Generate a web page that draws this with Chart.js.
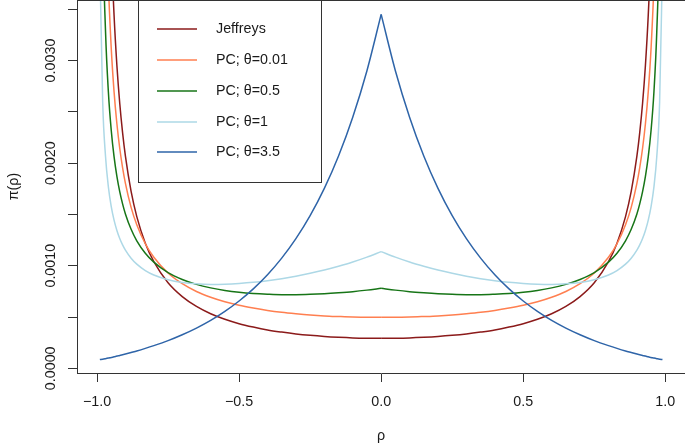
<!DOCTYPE html>
<html>
<head>
<meta charset="utf-8">
<script src="https://cdn.jsdelivr.net/npm/chart.js@4.4.0/dist/chart.umd.min.js"></script>
<style>
  html, body { margin: 0; padding: 0; background: #fff; overflow: hidden; }
  #wrap { width: 685px; height: 443px; }
</style>
</head>
<body>
<div id="wrap"><canvas id="prior-chart" width="685" height="443"></canvas></div>
<script>
// rho grid (x values)
const rho = [-0.99, -0.98, -0.97, -0.96, -0.95, -0.94, -0.93, -0.92, -0.91, -0.9, -0.88, -0.86, -0.83, -0.8, -0.75, -0.7, -0.65, -0.6, -0.55, -0.5, -0.45, -0.4, -0.35, -0.3, -0.25, -0.2, -0.15, -0.1, -0.05,
  0,
  0.05, 0.1, 0.15, 0.2, 0.25, 0.3, 0.35, 0.4, 0.45, 0.5, 0.55, 0.6, 0.65, 0.7, 0.75, 0.8, 0.83, 0.86, 0.88, 0.9, 0.91, 0.92, 0.93, 0.94, 0.95, 0.96, 0.97, 0.98, 0.99];

// prior values
const jeffreys = [0.020648, 0.010324, 0.006883, 0.005163, 0.004131, 0.003443, 0.002952, 0.002583, 0.002297, 0.002068, 0.001724, 0.001479, 0.001220, 0.001039, 0.000834, 0.000699, 0.000603, 0.000532, 0.000478, 0.000435, 0.000402, 0.000374, 0.000353, 0.000335, 0.000321, 0.000310, 0.000302, 0.000296, 0.000293,
  0.000292,
  0.000293, 0.000296, 0.000302, 0.000310, 0.000321, 0.000335, 0.000353, 0.000374, 0.000402, 0.000435, 0.000478, 0.000532, 0.000603, 0.000699, 0.000834, 0.001039, 0.001220, 0.001479, 0.001724, 0.002068, 0.002297, 0.002583, 0.002952, 0.003443, 0.004131, 0.005163, 0.006883, 0.010324, 0.020648];

const pc001 = [0.012248, 0.006723, 0.004769, 0.003754, 0.003126, 0.002697, 0.002384, 0.002145, 0.001957, 0.001803, 0.001569, 0.001399, 0.001214, 0.001082, 0.000929, 0.000825, 0.000749, 0.000693, 0.000649, 0.000614, 0.000587, 0.000564, 0.000546, 0.000532, 0.000520, 0.000511, 0.000505, 0.000500, 0.000498,
  0.000497,
  0.000498, 0.000500, 0.000505, 0.000511, 0.000520, 0.000532, 0.000546, 0.000564, 0.000587, 0.000614, 0.000649, 0.000693, 0.000749, 0.000825, 0.000929, 0.001082, 0.001214, 0.001399, 0.001569, 0.001803, 0.001957, 0.002145, 0.002384, 0.002697, 0.003126, 0.003754, 0.004769, 0.006723, 0.012248];

const pc05 = [0.007288, 0.004374, 0.003283, 0.002696, 0.002323, 0.002063, 0.001871, 0.001722, 0.001603, 0.001505, 0.001355, 0.001243, 0.001122, 0.001035, 0.000933, 0.000866, 0.000818, 0.000784, 0.000759, 0.000741, 0.000729, 0.000722, 0.000718, 0.000718, 0.000721, 0.000727, 0.000736, 0.000747, 0.000762,
  0.000780,
  0.000762, 0.000747, 0.000736, 0.000727, 0.000721, 0.000718, 0.000718, 0.000722, 0.000729, 0.000741, 0.000759, 0.000784, 0.000818, 0.000866, 0.000933, 0.001035, 0.001122, 0.001243, 0.001355, 0.001505, 0.001603, 0.001722, 0.001871, 0.002063, 0.002323, 0.002696, 0.003283, 0.004374, 0.007288];

const pc1 = [0.003949, 0.002596, 0.002064, 0.001769, 0.001579, 0.001445, 0.001344, 0.001266, 0.001203, 0.001152, 0.001073, 0.001015, 0.000953, 0.000910, 0.000864, 0.000837, 0.000823, 0.000818, 0.000820, 0.000827, 0.000838, 0.000854, 0.000874, 0.000898, 0.000926, 0.000958, 0.000995, 0.001036, 0.001084,
  0.001137,
  0.001084, 0.001036, 0.000995, 0.000958, 0.000926, 0.000898, 0.000874, 0.000854, 0.000838, 0.000827, 0.000820, 0.000818, 0.000823, 0.000837, 0.000864, 0.000910, 0.000953, 0.001015, 0.001073, 0.001152, 0.001203, 0.001266, 0.001344, 0.001445, 0.001579, 0.001769, 0.002064, 0.002596, 0.003949];

const pc35 = [0.0000852, 0.0000883, 0.0000935, 0.0000994, 0.000106, 0.000112, 0.000119, 0.000125, 0.000132, 0.000139, 0.000154, 0.000169, 0.000194, 0.000221, 0.000270, 0.000327, 0.000392, 0.000467, 0.000555, 0.000656, 0.000774, 0.000912, 0.001074, 0.001264, 0.001488, 0.001754, 0.002070, 0.002448, 0.002901,
  0.003450,
  0.002901, 0.002448, 0.002070, 0.001754, 0.001488, 0.001264, 0.001074, 0.000912, 0.000774, 0.000656, 0.000555, 0.000467, 0.000392, 0.000327, 0.000270, 0.000221, 0.000194, 0.000169, 0.000154, 0.000139, 0.000132, 0.000125, 0.000119, 0.000112, 0.000106, 0.0000994, 0.0000935, 0.0000883, 0.0000852];

const seriesLabels = ['Jeffreys', 'PC; \u03b8=0.01', 'PC; \u03b8=0.5', 'PC; \u03b8=1', 'PC; \u03b8=3.5'];
const seriesColors = ['#8B1A1A', '#FF7F50', '#177517', '#ADD8E6', '#2E64A8'];

// axis ticks
const xTicks = [-1, -0.5, 0, 0.5, 1];
const yTicks = [0, 0.0005, 0.001, 0.0015, 0.002, 0.0025, 0.003, 0.0035];
const yTickLabels = ['0.0000', '', '0.0010', '', '0.0020', '', '0.0030', ''];

const FONT = "'Liberation Sans', Arial, Helvetica, sans-serif";
const FONT_SIZE = 14.3;
const AXIS_COLOR = '#333';
const TEXT_COLOR = '#1a1a1a';

const midIndex = rho.indexOf(0);

function toPoints(values, from, to) {
    const pts = [];
    for (let i = from; i <= to; i++) {
        pts.push({ x: rho[i], y: values[i] });
    }
    return pts;
}

// each curve is drawn as two halves meeting at rho = 0, so the cusp stays sharp
const allSeries = [jeffreys, pc001, pc05, pc1, pc35];
const datasets = [];
allSeries.forEach((vals, i) => {
    [[0, midIndex], [midIndex, rho.length - 1]].forEach(([a, b]) => {
        datasets.push({
            label: seriesLabels[i],
            data: toPoints(vals, a, b),
            borderColor: seriesColors[i],
            backgroundColor: seriesColors[i],
            borderWidth: 1.5,
            pointRadius: 0,
            tension: 0.4,
            cubicInterpolationMode: 'monotone',
            fill: false,
            order: -i
        });
    });
});

// no extra padding around the plot box
function noPadding(scale) {
    scale.paddingLeft = 0;
    scale.paddingRight = 0;
    scale.paddingTop = 0;
    scale.paddingBottom = 0;
}

// draws the R-style extras: top frame line, rotated y labels, axis titles, legend box
const rStylePlugin = {
    id: 'rStyle',
    afterDraw(chart) {
        const ctx = chart.ctx;
        const area = chart.chartArea;
        const yScale = chart.scales.y;
        ctx.save();

        // top frame line
        ctx.strokeStyle = AXIS_COLOR;
        ctx.lineWidth = 1;
        ctx.beginPath();
        ctx.moveTo(area.left, area.top + 0.5);
        ctx.lineTo(area.right, area.top + 0.5);
        ctx.stroke();

        // y tick labels, vertical
        ctx.fillStyle = TEXT_COLOR;
        ctx.font = FONT_SIZE + 'px ' + FONT;
        ctx.textAlign = 'center';
        ctx.textBaseline = 'middle';
        yTicks.forEach((v, i) => {
            if (!yTickLabels[i]) return;
            const y = yScale.getPixelForValue(v);
            ctx.save();
            ctx.translate(51, y);
            ctx.rotate(-Math.PI / 2);
            ctx.fillText(yTickLabels[i], 0, 0);
            ctx.restore();
        });

        // y title
        ctx.save();
        ctx.translate(14, (area.top + area.bottom) / 2);
        ctx.rotate(-Math.PI / 2);
        ctx.fillText('\u03c0(\u03c1)', 0, 0);
        ctx.restore();

        // x title
        ctx.fillText('\u03c1', 381, 436);

        // legend
        const box = { left: 138.5, top: 0.5, right: 321.5, bottom: 182.5 };
        ctx.fillStyle = '#fff';
        ctx.fillRect(box.left, box.top, box.right - box.left, box.bottom - box.top);
        ctx.strokeStyle = AXIS_COLOR;
        ctx.lineWidth = 1;
        ctx.strokeRect(box.left, box.top, box.right - box.left, box.bottom - box.top);
        const rows = [29, 60, 91, 122, 152];
        seriesLabels.forEach((label, i) => {
            const y = rows[i];
            ctx.strokeStyle = seriesColors[i];
            ctx.lineWidth = 1.5;
            ctx.beginPath();
            ctx.moveTo(157, y);
            ctx.lineTo(197, y);
            ctx.stroke();
            ctx.fillStyle = TEXT_COLOR;
            ctx.textAlign = 'left';
            ctx.fillText(label, 216, y);
        });

        ctx.restore();
    }
};

const chart = new Chart(document.getElementById('prior-chart').getContext('2d'), {
    type: 'line',
    data: { datasets: datasets },
    options: {
        responsive: false,
        animation: false,
        devicePixelRatio: 1,
        layout: { padding: 0 },
        plugins: {
            legend: { display: false },
            tooltip: { enabled: false }
        },
        scales: {
            x: {
                type: 'linear',
                min: -1.0704,
                max: 1.0693,
                afterBuildTicks: (scale) => { scale.ticks = xTicks.map(v => ({ value: v })); },
                afterFit: (scale) => { scale.height = 70; noPadding(scale); },
                grid: { drawOnChartArea: false, drawTicks: true, tickLength: 9, color: AXIS_COLOR, lineWidth: 1 },
                border: { display: true, color: AXIS_COLOR, width: 1 },
                ticks: {
                    autoSkip: false,
                    maxRotation: 0,
                    padding: 11,
                    color: TEXT_COLOR,
                    font: { family: FONT, size: FONT_SIZE },
                    callback: (v) => v.toFixed(1).replace('-', '\u2212')
                }
            },
            y: {
                type: 'linear',
                min: -0.0000458,
                max: 0.00359,
                afterBuildTicks: (scale) => { scale.ticks = yTicks.map(v => ({ value: v })); },
                afterFit: (scale) => { scale.width = 77; noPadding(scale); },
                grid: { drawOnChartArea: false, drawTicks: true, tickLength: 9, color: AXIS_COLOR, lineWidth: 1 },
                border: { display: true, color: AXIS_COLOR, width: 1 },
                ticks: { display: false }
            }
        }
    },
    plugins: [rStylePlugin]
});
</script>
</body>
</html>
